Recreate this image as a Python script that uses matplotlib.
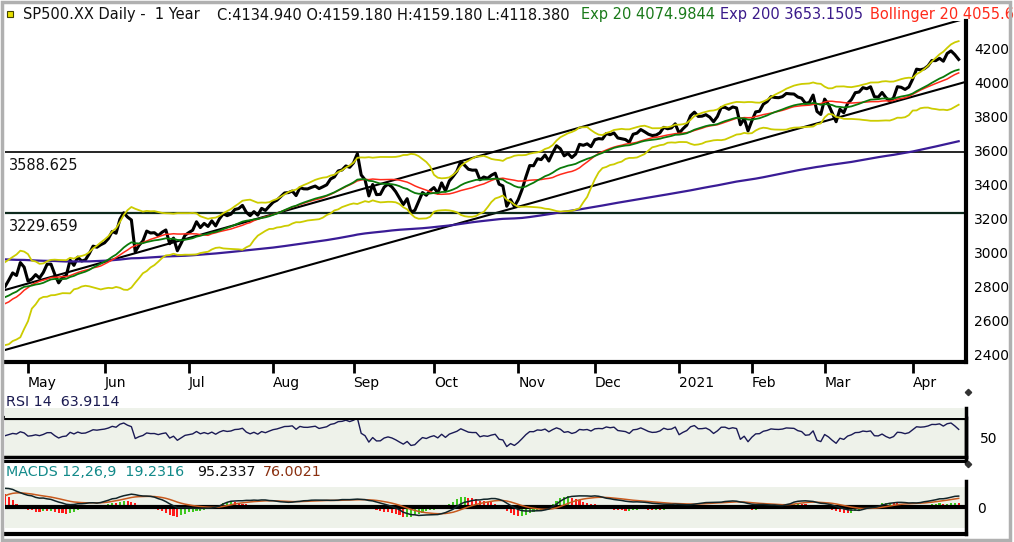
import numpy as np
import matplotlib
matplotlib.use('Agg')
import matplotlib.pyplot as plt
from matplotlib.patches import Rectangle
from matplotlib.lines import Line2D

W, H = 1014, 542

# ---- data: daily closes (warm-up history only seeds the indicators) ----
warmup_closes = [3248.92, 3297.59, 3334.69, 3345.78, 3327.71, 3352.09, 3357.75, 3379.45, 3373.94,
                 3380.16, 3370.29, 3386.15, 3373.23, 3337.75, 3225.89, 3128.21, 3116.39, 2978.76,
                 2954.22, 3090.23, 3003.37, 3130.12, 3023.94, 2972.37, 2746.56, 2882.23, 2741.38,
                 2480.64, 2711.02, 2386.13, 2529.19, 2398.10, 2409.39, 2304.92, 2237.40, 2447.33,
                 2475.56, 2630.07, 2541.47, 2626.65, 2584.59, 2470.50, 2526.90, 2488.65, 2663.68,
                 2659.41, 2749.98, 2789.82, 2761.63, 2846.06, 2783.36, 2799.55, 2874.56, 2823.16,
                 2736.56, 2799.31]
closes_2020_04 = [2797.80, 2836.74, 2878.48, 2863.39, 2939.51, 2912.43]
closes_2020_05 = [2830.71, 2842.74, 2868.44, 2848.42, 2881.19, 2929.80, 2930.32, 2870.12, 2820.00, 2852.50,
                  2863.70, 2953.91, 2922.94, 2971.61, 2948.51, 2955.45, 2991.77, 3036.13, 3029.73, 3044.31]
closes_2020_06 = [3055.73, 3080.82, 3122.87, 3112.35, 3193.93, 3232.39, 3207.18, 3190.14, 3002.10, 3041.31,
                  3066.59, 3124.74, 3113.49, 3115.34, 3097.74, 3117.86, 3131.29, 3050.33, 3083.76, 3009.05,
                  3053.24, 3100.29]
closes_2020_07 = [3115.86, 3130.01, 3179.72, 3145.32, 3169.94, 3152.05, 3185.04, 3155.22, 3197.52, 3226.56,
                  3215.57, 3224.73, 3251.84, 3257.30, 3276.02, 3235.66, 3215.63, 3239.41, 3218.44, 3258.44,
                  3246.22, 3271.12]
closes_2020_08 = [3294.61, 3306.51, 3327.77, 3349.16, 3351.28, 3360.47, 3333.69, 3380.35, 3373.43, 3372.85,
                  3381.99, 3389.78, 3374.85, 3385.51, 3397.16, 3431.28, 3443.62, 3478.73, 3484.55, 3508.01,
                  3500.31]
closes_2020_09 = [3526.65, 3580.84, 3455.06, 3426.96, 3331.84, 3398.96, 3339.19, 3340.97, 3383.54, 3401.20,
                  3385.49, 3357.01, 3319.47, 3281.06, 3315.57, 3236.92, 3246.59, 3298.46, 3351.60, 3335.47,
                  3363.00]
closes_2020_10 = [3380.80, 3348.42, 3408.60, 3360.97, 3419.44, 3446.83, 3477.14, 3534.22, 3511.93, 3488.67,
                  3483.34, 3483.81, 3426.92, 3443.12, 3435.56, 3453.49, 3465.39, 3400.97, 3390.68, 3271.03,
                  3310.11, 3269.96]
closes_2020_11 = [3310.24, 3369.16, 3443.44, 3510.45, 3509.44, 3550.50, 3545.53, 3572.66, 3537.01, 3585.15,
                  3626.91, 3609.53, 3567.79, 3581.87, 3557.54, 3577.59, 3635.41, 3629.65, 3638.35, 3621.63]
closes_2020_12 = [3662.45, 3669.01, 3666.72, 3699.12, 3691.96, 3702.25, 3672.82, 3668.10, 3663.46, 3647.49,
                  3694.62, 3701.17, 3722.48, 3709.41, 3694.92, 3687.26, 3690.01, 3703.06, 3735.36, 3727.04,
                  3732.04, 3756.07]
closes_2021_01 = [3700.65, 3726.86, 3748.14, 3803.79, 3824.68, 3799.61, 3801.19, 3809.84, 3795.54, 3768.25,
                  3798.91, 3851.85, 3853.07, 3841.47, 3855.36, 3849.62, 3750.77, 3787.38, 3714.24]
closes_2021_02 = [3773.86, 3826.31, 3830.17, 3871.74, 3886.83, 3915.59, 3911.23, 3909.88, 3916.38, 3934.83,
                  3932.59, 3931.33, 3913.97, 3906.71, 3876.50, 3881.37, 3925.43, 3829.34, 3811.15]
closes_2021_03 = [3901.82, 3870.29, 3819.72, 3768.47, 3841.94, 3821.35, 3875.44, 3898.81, 3939.34, 3943.34,
                  3968.94, 3962.71, 3974.12, 3915.46, 3913.10, 3940.59, 3910.52, 3889.14, 3909.52, 3974.54,
                  3971.09, 3958.55, 3972.89]
closes_2021_04 = [4019.87, 4077.91, 4073.94, 4079.95, 4097.17, 4128.80, 4127.99, 4141.59, 4124.66, 4170.42,
                  4185.47, 4163.26, 4134.94]

months = [closes_2020_04, closes_2020_05, closes_2020_06, closes_2020_07, closes_2020_08, closes_2020_09,
          closes_2020_10, closes_2020_11, closes_2020_12, closes_2021_01, closes_2021_02, closes_2021_03,
          closes_2021_04]
month_labels = ['May', 'Jun', 'Jul', 'Aug', 'Sep', 'Oct', 'Nov', 'Dec', '2021', 'Feb', 'Mar', 'Apr']

ema200_seed = 2960.0
levels = [3588.625, 3229.659]
level_labels = ['3588.625', '3229.659']
upper_channel = [2778.0, 4377.0]   # values at first bar and at bar 251
lower_channel = [2425.0, 4004.0]
channel_x = [0, 251]
price_ticks = [2400, 2600, 2800, 3000, 3200, 3400, 3600, 3800, 4000, 4200]

# ---- indicators ----
def ema(v, n, seed=None):
    a = 2.0 / (n + 1)
    out = np.empty(len(v))
    prev = v[0] if seed is None else seed + a * (v[0] - seed)
    out[0] = prev
    for i in range(1, len(v)):
        prev = prev + a * (v[i] - prev)
        out[i] = prev
    return out

def sma(v, n):
    v = np.asarray(v, float)
    out = np.full(len(v), np.nan)
    for i in range(n - 1, len(v)):
        out[i] = v[i - n + 1:i + 1].mean()
    return out

closes = np.concatenate([np.array(m) for m in months])
allc = np.concatenate([np.array(warmup_closes), closes])
nw = len(warmup_closes)
N = len(closes)
x = np.arange(N)

ema20 = ema(allc, 20)[nw:]
ema200 = ema(closes, 200, seed=ema200_seed)
sma20 = sma(allc, 20)[nw:]
sd20 = np.array([allc[i - 19:i + 1].std() for i in range(nw, nw + N)])
bb_up = sma20 + 2 * sd20
bb_lo = sma20 - 2 * sd20

# MACDS: simple-average MACD (12, 26) with a 9-period exponential signal
macd_all = sma(allc, 12) - sma(allc, 26)
valid = ~np.isnan(macd_all)
sig_all = np.full(len(allc), np.nan)
sig_all[valid] = ema(macd_all[valid], 9)
hist_all = macd_all - sig_all
macd = macd_all[nw:]
sig = sig_all[nw:]
hist = hist_all[nw:]
hist_prev = hist_all[nw - 1:-1]

d = np.diff(allc)
g = np.where(d > 0, d, 0.0)
l = np.where(d < 0, -d, 0.0)
ag = g[:14].mean(); al = l[:14].mean()
rsi_all = np.full(len(allc), np.nan)
for i in range(14, len(d)):
    ag = (ag * 13 + g[i]) / 14
    al = (al * 13 + l[i]) / 14
    rsi_all[i + 1] = 100 - 100 / (1 + ag / al)
rsi = rsi_all[nw:]

month_start = np.cumsum([len(m) for m in months])[:-1]

# ---- figure ----
fig = plt.figure(figsize=(W / 100, H / 100), dpi=100)
fig.patch.set_facecolor('white')
LIGHT = '#eef2ea'

def fx(px):
    return px / W

def fy(py):
    return 1 - py / H

def fig_line(x0, y0, x1, y1, **kw):
    fig.lines.append(Line2D([fx(x0), fx(x1)], [fy(y0), fy(y1)], transform=fig.transFigure, **kw))

xl = (0, 961 / 3.83)

# main price panel
ax = fig.add_axes([fx(5), fy(362), fx(961), (362 - 21) / H])
ax.set_xlim(*xl)
ax.set_ylim(2354.2, 4361.3)
ax.plot(x, closes, color='black', lw=2.2, zorder=3, solid_joinstyle='round')
ax.plot(x, ema200, color='#3a1c96', lw=1.6, zorder=4)
ax.plot(x, sma20, color='#ff2a1a', lw=1.1, zorder=4)
ax.plot(x, ema20, color='#0a7a0a', lw=1.3, zorder=5)
ax.plot(x, bb_up, color='#cccc00', lw=1.3, zorder=5)
ax.plot(x, bb_lo, color='#cccc00', lw=1.3, zorder=5)
ax.plot(channel_x, upper_channel, color='black', lw=1.5, zorder=2)
ax.plot(channel_x, lower_channel, color='black', lw=1.5, zorder=2)
ax.axhline(levels[0], color='black', lw=1.2, zorder=2)
ax.axhline(levels[1], color='#0d2a1d', lw=1.6, zorder=2)
for lv, lab in zip(levels, level_labels):
    ax.annotate(lab, (0, lv), xycoords=('axes fraction', 'data'), xytext=(3, -4),
                textcoords='offset points', ha='left', va='top', fontsize=10.5, color='#111111')
for s in ['left', 'top']:
    ax.spines[s].set_visible(False)
ax.spines['right'].set_linewidth(3)
ax.spines['bottom'].set_linewidth(3)
ax.yaxis.tick_right()
ax.set_yticks(price_ticks)
ax.set_yticklabels([str(t) for t in price_ticks])
ax.tick_params(axis='y', length=0, pad=6, labelsize=10)
ax.set_xticks(month_start)
ax.set_xticklabels(month_labels)
ax.tick_params(axis='x', length=8, width=2, direction='out', pad=2, labelsize=10)
for t in ax.get_xticklabels():
    t.set_horizontalalignment('left')

# RSI panel
fig.patches.append(Rectangle((fx(5), fy(418)), fx(961), 10 / H, transform=fig.transFigure,
                             facecolor=LIGHT, edgecolor='none', zorder=0))
ar = fig.add_axes([fx(5), fy(457.4), fx(961), (457.4 - 418) / H])
ar.set_facecolor(LIGHT)
ar.set_xlim(*xl)
rdev = np.nanmax(np.abs(rsi - 50))
ar.set_ylim(50 - rdev, 50 + rdev)
ar.plot(x, rsi, color='#1a1a55', lw=1.0)
ar.spines['left'].set_visible(False)
ar.spines['top'].set_linewidth(3)
ar.spines['right'].set_linewidth(2.5)
ar.spines['bottom'].set_linewidth(2.5)
ar.set_xticks([])
ar.yaxis.tick_right()
ar.set_yticks([50])
ar.set_yticklabels(['50'])
ar.tick_params(axis='y', length=0, pad=10, labelsize=10)
fig_line(5, 460.8, 966, 460.8, color='black', lw=2.2)
fig_line(966, 408, 966, 462, color='black', lw=2.5)

# MACD panel: histogram axes underneath, line axes on top (shared zero level)
rect = [fx(5), fy(534), fx(961), (534 - 481) / H]
ah = fig.add_axes(rect)
ah.set_xlim(*xl)
hm = np.nanmax(np.abs(hist))
s_px = 13.0 / hm
ah.set_ylim(-26.7 / s_px, 26.3 / s_px)
ah.axhspan(-20.6 / s_px, 20.6 / s_px, color=LIGHT, lw=0, zorder=0)
cols = np.where(hist >= hist_prev, '#3ec81e', '#ff1a1a')
ah.bar(x, hist, width=0.55, color=cols, zorder=2)
ah.axhline(0, color='black', lw=3, zorder=3)
ah.axis('off')

am = fig.add_axes(rect)
am.patch.set_visible(False)
am.set_xlim(*xl)
am.set_ylim(-226, 223)
am.plot(x, sig, color='#c85a1e', lw=1.1, zorder=4)
am.plot(x, macd, color='#102428', lw=1.1, zorder=5)
for s in ['left', 'top']:
    am.spines[s].set_visible(False)
am.spines['right'].set_linewidth(2.5)
am.spines['bottom'].set_linewidth(3)
am.set_xticks([])
am.yaxis.tick_right()
am.set_yticks([0])
am.set_yticklabels(['0'])
am.tick_params(axis='y', length=0, pad=8, labelsize=10)

# small panel handles on the right edge
for py in (392, 464):
    fig.lines.append(Line2D([fx(968)], [fy(py)], transform=fig.transFigure, marker='D',
                            markersize=3.2, color='#333333', lw=0))

# header texts
ty = fy(15)
fig.text(fx(23), ty, 'SP500.XX Daily -  1 Year', fontsize=10.5, va='center', color='#111111')
fig.text(fx(217), ty, 'C:4134.940 O:4159.180 H:4159.180 L:4118.380', fontsize=10.5, va='center', color='#111111')
fig.text(fx(581), ty, 'Exp 20 4074.9844', fontsize=10.5, va='center', color='#1a7a1a')
fig.text(fx(720), ty, 'Exp 200 3653.1505', fontsize=10.5, va='center', color='#3a1a8a')
fig.text(fx(870), ty, 'Bollinger 20 4055.6', fontsize=10.5, va='center', color='#ff2a1a')
fig.patches.append(Rectangle((fx(7), fy(17)), fx(6), 6 / H, transform=fig.transFigure,
                             facecolor='#e8e000', edgecolor='#444400', lw=0.8))

fig.text(fx(6), fy(402), 'RSI 14  63.9114', fontsize=10.3, va='center', color='#1a1a50')
fig.text(fx(6), fy(472), 'MACDS 12,26,9  19.2316', fontsize=10.3, va='center', color='#138a8a')
fig.text(fx(197), fy(472), '95.2337', fontsize=10.3, va='center', color='#111111')
fig.text(fx(263), fy(472), '76.0021', fontsize=10.3, va='center', color='#8a3010')

fig.patches.append(Rectangle((fx(2), fy(540)), fx(1008), 538 / H, transform=fig.transFigure,
                             facecolor='none', edgecolor='#b0b0b0', lw=2.5, zorder=10))
fig.savefig('out.png', dpi=100)
